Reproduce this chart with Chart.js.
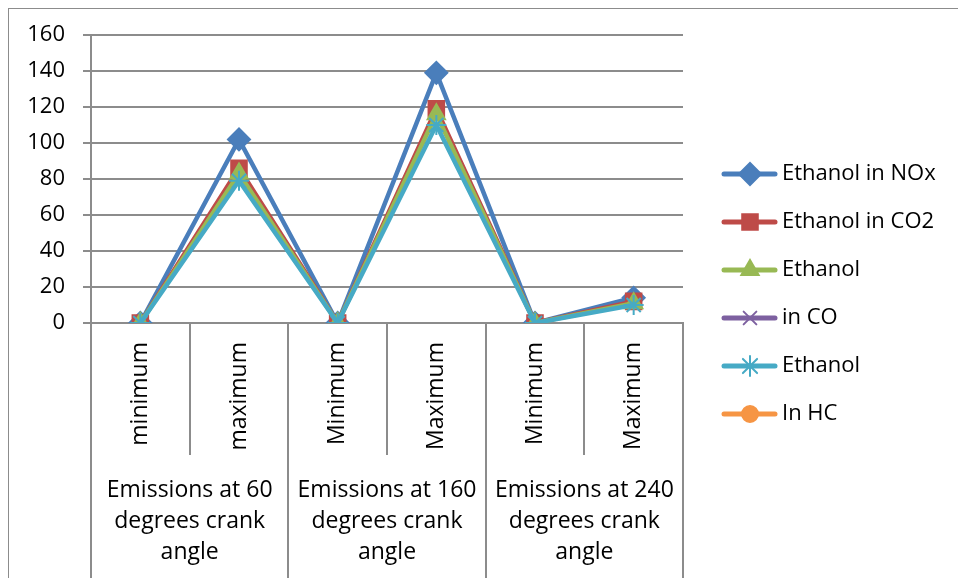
<!DOCTYPE html>
<html>
<head>
<meta charset="utf-8">
<title>Ethanol emissions by crank angle</title>
<script src="https://cdn.jsdelivr.net/npm/chart.js@4.4.1/dist/chart.umd.min.js"></script>
<style>
    html, body { margin: 0; padding: 0; background: #fff; }
    .frame {
        position: absolute;
        left: 8px;
        top: 8px;
        width: 950px;
        height: 570px;
        border-left: 1px solid #8c8c8c;
        border-top: 1px solid #8c8c8c;
    }
    canvas { display: block; }
</style>
</head>
<body>
<div class="frame"><canvas id="chart" width="950" height="570"></canvas></div>
<script>
// Chart data
const subLabels = ['minimum', 'maximum', 'Minimum', 'Maximum', 'Minimum', 'Maximum'];
const groupLabels = [
    ['Emissions at 60', 'degrees crank', 'angle'],
    ['Emissions at 160', 'degrees crank', 'angle'],
    ['Emissions at 240', 'degrees crank', 'angle']
];
const seriesNames = ['Ethanol in NOx', 'Ethanol in CO2', 'Ethanol', 'in CO', 'Ethanol', 'In HC'];
const noxValues = [0, 102, 0, 139, 0, 14];
const co2Values = [0, 86, 0, 119, 0, 12];
const ethanolValues = [0, 83, 0, 116, 0, 11];
const coValues = [null, null, null, null, null, null];
const ethanol2Values = [0, 79, 0, 110, 0, 10];
const hcValues = [null, null, null, null, null, null];
const yMin = 0;
const yMax = 160;
const yStep = 20;

const FONT = '"Open Sans", "Liberation Sans", sans-serif';
const gridColor = '#8c8c8c';

const seriesStyles = [
    { color: '#4a7ebb', point: 'rectRot', radius: 11 },
    { color: '#be4b48', point: 'rect', radius: 11 },
    { color: '#98b954', point: 'triangle', radius: 10 },
    { color: '#7d60a0', point: 'crossRot', radius: 9 },
    { color: '#46aac5', point: 'star', radius: 10 },
    { color: '#f69544', point: 'circle', radius: 8 }
];
const seriesValues = [noxValues, co2Values, ethanolValues, coValues, ethanol2Values, hcValues];

// legend symbol: line with the marker in the middle
function legendSymbol(style) {
    const c = document.createElement('canvas');
    c.width = 76;
    c.height = 26;
    const ctx = c.getContext('2d');
    ctx.strokeStyle = style.color;
    ctx.fillStyle = style.color;
    ctx.lineWidth = 5;
    ctx.lineCap = 'round';
    ctx.beginPath();
    ctx.moveTo(22, 13);
    ctx.lineTo(73, 13);
    ctx.stroke();
    ctx.lineWidth = 2;
    Chart.helpers.drawPoint(ctx, { pointStyle: style.point, radius: style.radius, rotation: 0, borderWidth: 2 }, 48, 13);
    return c;
}
const legendSymbols = seriesStyles.map(legendSymbol);

const datasets = seriesNames.map((name, i) => ({
    label: name,
    data: seriesValues[i],
    borderColor: seriesStyles[i].color,
    backgroundColor: seriesStyles[i].color,
    pointBackgroundColor: seriesStyles[i].color,
    pointBorderColor: seriesStyles[i].color,
    pointStyle: seriesStyles[i].point,
    pointRadius: seriesStyles[i].radius,
    pointBorderWidth: 2,
    borderWidth: 4.5,
    tension: 0,
    order: seriesNames.length - i
}));

new Chart(document.getElementById('chart'), {
    type: 'line',
    data: { labels: subLabels, datasets: datasets },
    options: {
        responsive: false,
        animation: false,
        layout: { padding: { top: 0, left: 0, bottom: 0, right: 16 } },
        plugins: {
            tooltip: { enabled: false },
            legend: {
                position: 'right',
                align: 'center',
                reverse: true,
                maxWidth: 260,
                labels: {
                    usePointStyle: true,
                    pointStyleWidth: 62,
                    padding: 26,
                    color: '#000',
                    font: { family: FONT, size: 22 },
                    generateLabels: (chart) => {
                        const items = Chart.defaults.plugins.legend.labels.generateLabels(chart);
                        items.forEach(item => { item.pointStyle = legendSymbols[item.datasetIndex]; });
                        return items;
                    }
                }
            }
        },
        scales: {
            x: {
                type: 'category',
                position: 'bottom',
                offset: true,
                grid: { offset: true, drawOnChartArea: false, tickLength: 132, color: gridColor, lineWidth: 2 },
                border: { display: true, color: gridColor, width: 2 },
                ticks: {
                    autoSkip: false,
                    minRotation: 90,
                    maxRotation: 90,
                    padding: -113,
                    color: '#000',
                    font: { family: FONT, size: 23 }
                },
                afterFit: (scale) => { scale.height = 132; }
            },
            group: {
                type: 'category',
                position: 'bottom',
                offset: true,
                labels: groupLabels,
                grid: { offset: true, drawOnChartArea: false, tickLength: 124, color: gridColor, lineWidth: 2 },
                border: { display: false },
                ticks: {
                    autoSkip: false,
                    maxRotation: 0,
                    padding: -104,
                    color: '#000',
                    font: { family: FONT, size: 23, lineHeight: 1.35 }
                },
                afterFit: (scale) => { scale.height = 124; }
            },
            y: {
                min: yMin,
                max: yMax,
                ticks: { stepSize: yStep, padding: 18, color: '#000', font: { family: FONT, size: 22 } },
                grid: { color: gridColor, lineWidth: 2, tickLength: 8 },
                border: { color: gridColor, width: 2 },
                afterFit: (scale) => { scale.width = 82; scale.paddingTop = 26; }
            }
        }
    }
});
</script>
</body>
</html>
